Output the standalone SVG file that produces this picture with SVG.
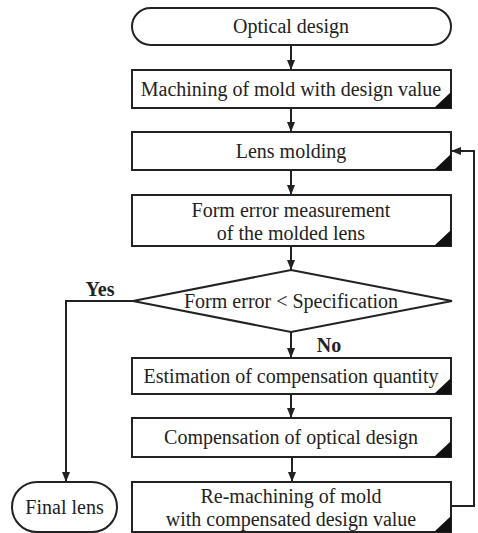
<svg xmlns="http://www.w3.org/2000/svg" width="478" height="533" viewBox="0 0 478 533" font-family="Liberation Serif, DejaVu Serif, serif">
<style>
.box{fill:#fff;stroke:#222;stroke-width:2}
.tri{fill:#111}
.t{font-size:20px;fill:#222;text-anchor:middle}
.b{font-weight:bold}
.ln{fill:none;stroke:#222;stroke-width:2}
</style>
<defs>
<marker id="ah" viewBox="0 0 10 10" refX="10" refY="5" markerWidth="5" markerHeight="5" orient="auto" markerUnits="strokeWidth">
<path d="M0,1 L10,5 L0,9 z" fill="#222"/>
</marker>
</defs>
<rect width="478" height="533" fill="#fff"/>
<g id="connectors">
<line class="ln" x1="291" y1="45" x2="291" y2="70" marker-end="url(#ah)"/>
<line class="ln" x1="291" y1="108" x2="291" y2="132" marker-end="url(#ah)"/>
<line class="ln" x1="291" y1="170" x2="291" y2="195" marker-end="url(#ah)"/>
<line class="ln" x1="291" y1="246" x2="291" y2="270" marker-end="url(#ah)"/>
<line class="ln" x1="291" y1="332" x2="291" y2="358" marker-end="url(#ah)"/>
<line class="ln" x1="291" y1="394" x2="291" y2="418" marker-end="url(#ah)"/>
<line class="ln" x1="292" y1="457" x2="292" y2="482" marker-end="url(#ah)"/>
<polyline class="ln" points="133,301 66,301 66,482" marker-end="url(#ah)"/>
<polyline class="ln" points="451,506 474,506 474,151 451,151" marker-end="url(#ah)"/>
<text class="t b" x="100" y="296" font-family="Liberation Serif, serif">Yes</text>
<text class="t b" x="329" y="352" font-family="Liberation Serif, serif">No</text>
</g>
<g id="n1"><rect class="box" x="132" y="8" width="319" height="37" rx="18.5"/><text class="t" x="291" y="33" font-family="Liberation Serif, serif">Optical design</text></g>
<g id="n2"><rect class="box" x="132" y="70" width="319" height="38"/><path class="tri" d="M451,92 L451,108 L434,108 z"/><text class="t" x="291" y="96" font-family="Liberation Serif, serif">Machining of mold with design value</text></g>
<g id="n3"><rect class="box" x="132" y="132" width="319" height="38"/><path class="tri" d="M451,154 L451,170 L434,170 z"/><text class="t" x="291" y="158" font-family="Liberation Serif, serif">Lens molding</text></g>
<g id="n4"><rect class="box" x="132" y="195" width="319" height="51"/><path class="tri" d="M451,230 L451,246 L434,246 z"/><text class="t" x="291" y="217" font-family="Liberation Serif, serif">Form error measurement</text><text class="t" x="291" y="240" font-family="Liberation Serif, serif">of the molded lens</text></g>
<g id="n5"><polygon class="box" points="291,270 452,301 291,332 133,301"/><text class="t" x="291" y="308" font-family="Liberation Serif, serif">Form error &lt; Specification</text></g>
<g id="n6"><rect class="box" x="132" y="358" width="319" height="36"/><path class="tri" d="M451,378 L451,394 L434,394 z"/><text class="t" x="291" y="383" font-family="Liberation Serif, serif">Estimation of compensation quantity</text></g>
<g id="n7"><rect class="box" x="132" y="418" width="319" height="39"/><path class="tri" d="M451,441 L451,457 L434,457 z"/><text class="t" x="291" y="444" font-family="Liberation Serif, serif">Compensation of optical design</text></g>
<g id="n8"><rect class="box" x="132" y="482" width="319" height="50"/><path class="tri" d="M451,516 L451,532 L434,532 z"/><text class="t" x="291" y="503" font-family="Liberation Serif, serif">Re-machining of mold</text><text class="t" x="291" y="526" font-family="Liberation Serif, serif">with compensated design value</text></g>
<g id="n9"><rect class="box" x="12" y="482" width="105" height="50" rx="25"/><text class="t" x="64.5" y="514" font-family="Liberation Serif, serif">Final lens</text></g>
</svg>
